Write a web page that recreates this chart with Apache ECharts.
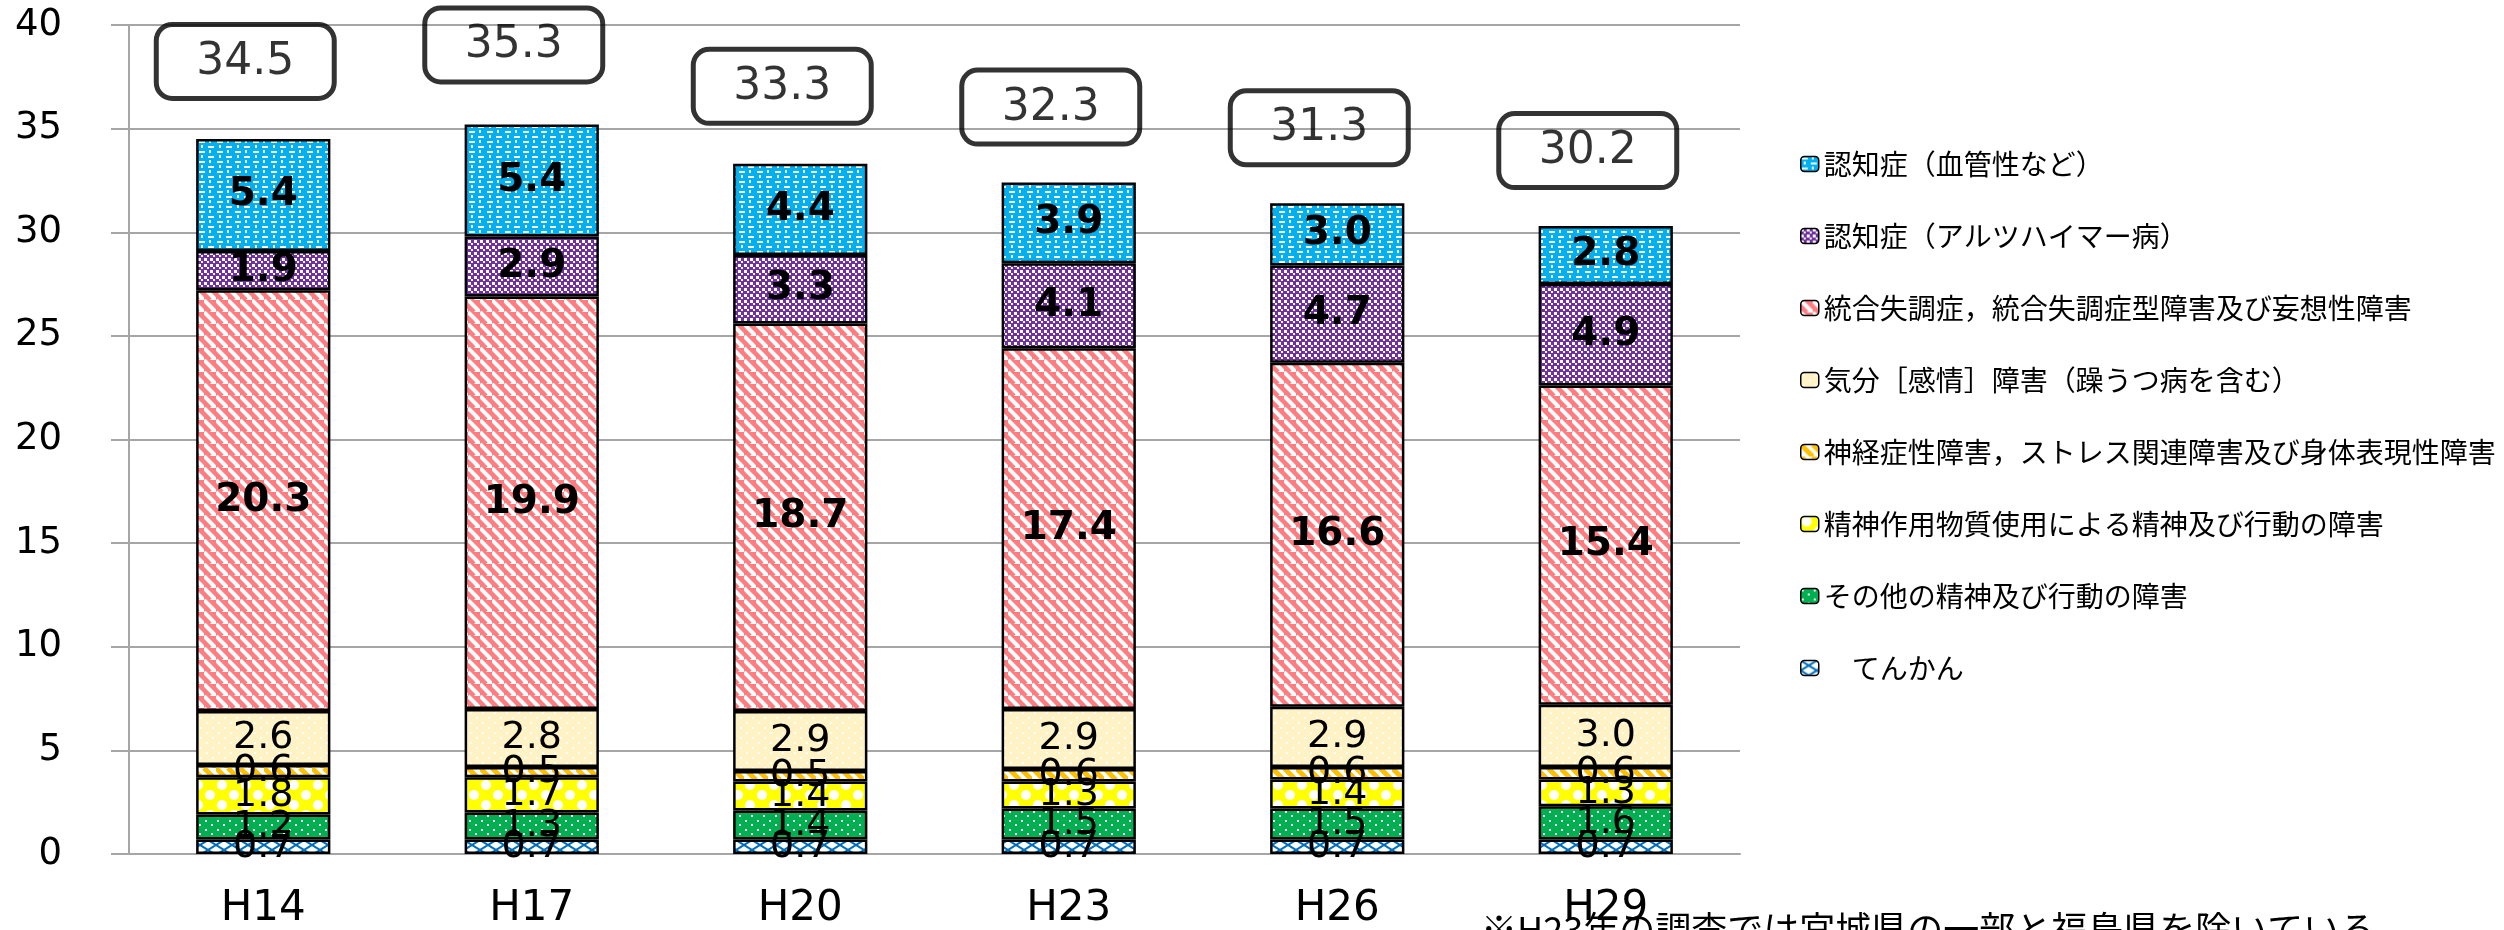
<!DOCTYPE html>
<html>
<head>
<meta charset="utf-8">
<script src="https://cdn.jsdelivr.net/npm/echarts@6/dist/echarts.min.js"></script>
<style>
html,body{margin:0;padding:0;background:#fff;}
#chart{width:2504px;height:930px;}
</style>
</head>
<body>
<div id="chart"></div>
<script>
// ---- data ----
const categories = ['H14', 'H17', 'H20', 'H23', 'H26', 'H29'];
const seriesNames = [
  '\u3000てんかん',
  'その他の精神及び行動の障害',
  '精神作用物質使用による精神及び行動の障害',
  '神経症性障害，ストレス関連障害及び身体表現性障害',
  '気分［感情］障害（躁うつ病を含む）',
  '統合失調症，統合失調症型障害及び妄想性障害',
  '認知症（アルツハイマー病）',
  '認知症（血管性など）'
];
const tenkan      = [0.7, 0.7, 0.7, 0.7, 0.7, 0.7];
const sonota      = [1.2, 1.3, 1.4, 1.5, 1.5, 1.6];
const busshitsu   = [1.8, 1.7, 1.4, 1.3, 1.4, 1.3];
const shinkeisho  = [0.6, 0.5, 0.5, 0.6, 0.6, 0.6];
const kibun       = [2.6, 2.8, 2.9, 2.9, 2.9, 3.0];
const tougou      = [20.3, 19.9, 18.7, 17.4, 16.6, 15.4];
const alzheimer   = [1.9, 2.9, 3.3, 4.1, 4.7, 4.9];
const kekkansei   = [5.4, 5.4, 4.4, 3.9, 3.0, 2.8];
const totals      = [34.5, 35.3, 33.3, 32.3, 31.3, 30.2];
const yMin = 0, yMax = 40, yStep = 5;
const footnote = '※H23年の調査では宮城県の一部と福島県を除いている';

// ---- patterns ----
function pat(w, h, bg, draw) {
  const c = document.createElement('canvas');
  c.width = w; c.height = h;
  const g = c.getContext('2d');
  g.fillStyle = bg; g.fillRect(0, 0, w, h);
  draw(g);
  return { image: c, repeat: 'repeat' };
}
const pTenkan = pat(16, 10, '#ffffff', g => {
  g.strokeStyle = '#0070C0'; g.lineWidth = 2;
  g.beginPath(); g.moveTo(0, 0); g.lineTo(16, 10); g.moveTo(16, 0); g.lineTo(0, 10); g.stroke();
});
const pSonota = pat(12, 9, '#00B050', g => {
  g.fillStyle = '#ffffff'; g.fillRect(1, 1, 2, 2); g.fillRect(7, 5, 2, 2);
});
const pBusshitsu = pat(24, 20, '#FFFF00', g => {
  g.fillStyle = '#ffffff';
  g.beginPath(); g.arc(6, 5, 5, 0, Math.PI * 2); g.fill();
  g.beginPath(); g.arc(18, 15, 5, 0, Math.PI * 2); g.fill();
});
const pShinkei = pat(24, 12, '#ffffff', g => {
  g.strokeStyle = '#FFC000'; g.lineWidth = 5;
  g.beginPath(); g.moveTo(0, 0); g.lineTo(12, 12); g.moveTo(12, 0); g.lineTo(24, 12); g.stroke();
});
const pKibun = pat(12, 10, '#FFF2C4', g => {
  g.fillStyle = '#ffffff'; g.fillRect(2, 2, 2, 2); g.fillRect(8, 7, 2, 2);
});
const pTougou = pat(12, 12, '#ffffff', g => {
  g.strokeStyle = '#FF7C80'; g.lineWidth = 4.5;
  g.beginPath();
  g.moveTo(-6, 0); g.lineTo(6, 12);
  g.moveTo(0, -6); g.lineTo(18, 12);
  g.moveTo(6, -6); g.lineTo(18, 6);
  g.moveTo(-6, 6); g.lineTo(0, 12);
  g.stroke();
});
const pAlz = pat(6, 6, '#7030A0', g => {
  g.fillStyle = '#ffffff'; g.fillRect(0, 0, 3, 3); g.fillRect(3, 3, 2, 2);
});
const pKekkan = pat(18, 10, '#00B0F0', g => {
  g.fillStyle = '#ffffff';
  g.fillRect(1, 1, 6, 2); g.fillRect(10, 6, 6, 2);
  g.fillRect(11, 0, 2, 3); g.fillRect(3, 5, 2, 3);
});

const patterns = [pTenkan, pSonota, pBusshitsu, pShinkei, pKibun, pTougou, pAlz, pKekkan];
const values = [tenkan, sonota, busshitsu, shinkeisho, kibun, tougou, alzheimer, kekkansei];
const boldIdx = [5, 6, 7];

const series = values.map((v, i) => ({
  name: seriesNames[i],
  type: 'bar',
  stack: 'total',
  barWidth: '50%',
  data: v,
  itemStyle: { color: patterns[i], borderColor: '#000', borderWidth: 2.5 },
  label: {
    show: true,
    position: 'inside',
    formatter: p => Number(p.value).toFixed(1),
    fontFamily: 'DejaVu Sans',
    fontSize: boldIdx.includes(i) ? 39 : 38,
    fontWeight: boldIdx.includes(i) ? 'bold' : 'normal',
    color: '#000'
  },
  emphasis: { disabled: true }
}));

series.push({
  name: 'total',
  type: 'scatter',
  data: totals,
  symbolSize: 1,
  silent: true,
  itemStyle: { color: 'transparent' },
  label: {
    show: true,
    position: 'top',
    distance: 40,
    offset: [-18, 0],
    formatter: p => Number(p.value).toFixed(1),
    fontFamily: 'DejaVu Sans',
    fontSize: 44,
    lineHeight: 44,
    color: '#000',
    borderColor: '#000',
    borderWidth: 5,
    borderRadius: 16,
    padding: [16, 40, 14, 40]
  },
  z: 5
});

const chart = echarts.init(document.getElementById('chart'), null, { renderer: 'canvas' });
chart.setOption({
  animation: false,
  backgroundColor: '#ffffff',
  grid: { left: 129, right: 764, top: 25, bottom: 73, containLabel: false },
  xAxis: {
    type: 'category',
    data: categories,
    axisLine: { show: true, lineStyle: { color: '#A6A6A6', width: 2 } },
    axisTick: { show: false },
    axisLabel: { fontFamily: 'DejaVu Sans', fontSize: 42, color: '#000', margin: 34 }
  },
  yAxis: {
    type: 'value',
    min: yMin, max: yMax, interval: yStep,
    axisLine: { show: true, lineStyle: { color: '#A6A6A6', width: 2 } },
    axisTick: { show: true, length: 18, lineStyle: { color: '#A6A6A6', width: 2 } },
    splitLine: { show: true, lineStyle: { color: '#A6A6A6', width: 2 } },
    axisLabel: { fontFamily: 'DejaVu Sans', fontSize: 37, color: '#000', margin: 67 }
  },
  legend: {
    orient: 'vertical',
    left: 1795,
    top: 144,
    itemWidth: 18,
    itemHeight: 15,
    itemGap: 42,
    itemStyle: { borderColor: '#000', borderWidth: 1.5 },
    data: seriesNames.slice().reverse(),
    textStyle: { fontFamily: 'Noto Sans CJK JP', fontSize: 28, lineHeight: 30, color: '#000' },
    selectedMode: false
  },
  graphic: [{
    type: 'text',
    left: 1481,
    top: 911,
    style: { text: footnote, font: '36px "Noto Sans CJK JP"', fill: '#000' }
  }],
  series: series
});
</script>
</body>
</html>
